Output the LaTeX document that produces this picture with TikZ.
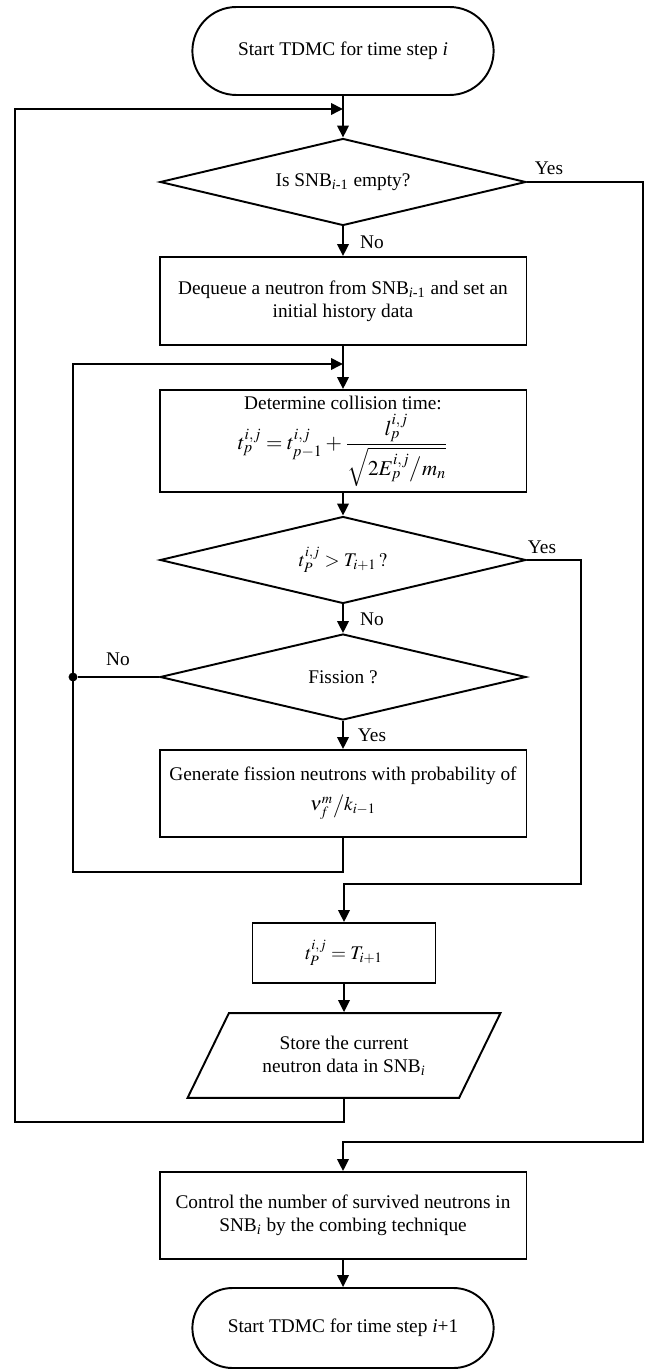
\documentclass[tikz,border=0pt]{standalone}
\usepackage{amsmath}
\usepackage{mathptmx}
\usepackage{fontspec}
\setmainfont{Liberation Serif}
\usepackage{tikz}
\usetikzlibrary{arrows.meta, shapes.geometric, shapes.misc}
\tikzset{flowbox/.style={draw, rectangle, minimum width=7.34cm, minimum height=1.74cm, inner sep=2pt, align=center},
    decision/.style={draw, diamond, aspect=4.2, minimum width=7.32cm, minimum height=1.74cm, inner sep=0pt, align=center},
    terminal/.style={draw, rounded rectangle, minimum width=6.26cm, minimum height=1.76cm, align=center},
    iobox/.style={draw, trapezium, trapezium left angle=64, trapezium right angle=116, trapezium stretches body, minimum width=6.26cm, inner xsep=0pt, inner ysep=13pt, align=center},
    flowline/.style={-{Triangle[length=2.4mm,width=2.3mm]}}}

\begin{document}
\begin{tikzpicture}[x=0.02cm, y=-0.02cm, line width=1.1pt, font=\fontsize{11}{13}\selectfont]
    \useasboundingbox (0,0) rectangle (651,1371);

    % main column
    \node [terminal] (start) at (343,51) {Start TDMC for time step \textit{i}};
    \node [decision] (empty) at (343,182) {Is SNB\textsubscript{\textit{i}-1} empty?};
    \node [flowbox, minimum height=1.76cm] (dequeue) at (343,301) {Dequeue a neutron from SNB\textsubscript{\textit{i}-1} and set an\\ initial history data};
    \node [flowbox, minimum height=2.04cm, inner sep=1pt] (colltime) at (343,441) {Determine collision time:\\[2pt]
        {\fontsize{12}{14}\selectfont $t_p^{i,j}=t_{p-1}^{i,j}+\dfrac{l_p^{i,j}}{\sqrt{2E_p^{i,j}\big/m_n}}$}};
    \node [decision] (overtime) at (343,560) {$t_P^{i,j}>T_{i+1}\,?$};
    \node [decision, minimum height=1.72cm] (fission) at (343,677) {Fission ?};
    \node [flowbox] (genfis) at (343,793.5) {Generate fission neutrons with probability of\\[4pt] $\nu_f^m\big/k_{i-1}$};
    \node [flowbox, minimum width=3.66cm, minimum height=1.2cm] (settime) at (344,953) {$t_P^{i,j}=T_{i+1}$};
    \node [iobox] (store) at (344,1055.5) {Store the current\\ neutron data in SNB\textsubscript{\textit{i}}};
    \node [flowbox] (comb) at (343,1215.5) {Control the number of survived neutrons in\\ SNB\textsubscript{\textit{i}} by the combing technique};
    \node [terminal, minimum height=1.6cm] (next) at (343,1328) {Start TDMC for time step \textit{i}+1};

    % branch labels
    \node (yes1) at (549,168) {Yes};
    \node (no1) at (372,242) {No};
    \node (yes2) at (542,547) {Yes};
    \node (no2) at (372,619) {No};
    \node (no3) at (118,659) {No};
    \node (yes3) at (372,735) {Yes};

    \node [fill, circle, inner sep=1.8pt] (dot) at (73,677) {};

    \coordinate (join1) at (343,109);
    \coordinate (join2) at (343,364);
    \coordinate (back1) at (15,1122);
    \coordinate (back2) at (73,872);
    \coordinate (right1) at (643,1142);
    \coordinate (right2) at (581,884);

    \path[flowline] (start) edge (empty)
        (empty) edge (dequeue)
        (dequeue) edge (colltime)
        (colltime) edge (overtime)
        (overtime) edge (fission)
        (fission) edge (genfis)
        (settime) edge (store)
        (comb) edge (next);

    \draw (fission) -- (dot);
    \draw[flowline] (genfis) |- (back2) |- (join2);
    \draw[flowline] (store) |- (back1) |- (join1);
    \draw[flowline] (empty.east) -| (right1) -| (comb);
    \draw[flowline] (overtime.east) -| (right2) -| (settime);
\end{tikzpicture}
\end{document}
